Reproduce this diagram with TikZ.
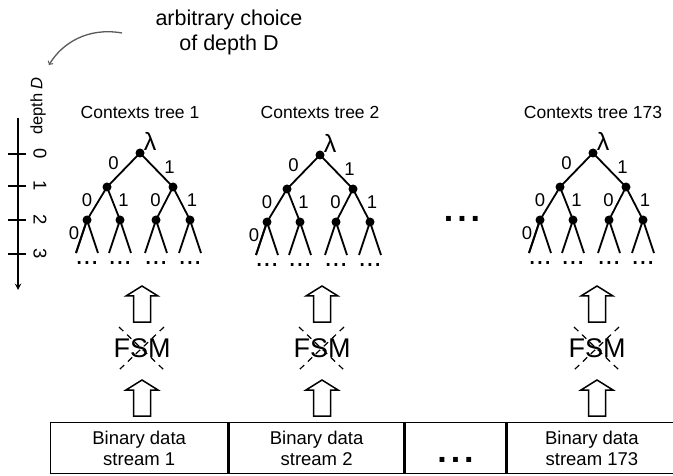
\documentclass[tikz,border=0pt]{standalone}
\usepackage{fontspec}
\setmainfont{Liberation Sans}
\usetikzlibrary{arrows,positioning}
\colorlet{gris}{black!65}
\newcommand{\fsz}[1]{\fontsize{#1}{#1}\selectfont}

\begin{document}
\begin{tikzpicture}[x=1pt,y=-1pt,
  knot/.style={circle,fill,inner sep=0pt,minimum size=9pt},
  branch/.style={line width=1.8pt},
  bit/.style={font=\fsz{18.5},inner sep=0pt},
  feuille/.style={font=\fsz{28},inner sep=0pt},
  titre/.style={font=\fsz{17.5},inner sep=0pt},
  fsm/.style={font=\fsz{27},inner sep=0pt},
  croix/.style={line width=1.2pt,dash pattern=on 6pt off 5pt},
  stream/.style={draw,line width=1.4pt,minimum height=51pt,inner sep=0pt,align=center,font=\fontsize{18.5}{21}\selectfont},
  gros/.style={font=\bfseries\fsz{34},inner sep=0pt},
  fleche/.pic={\draw[line width=1.5pt,fill=white] (-8.5,0) -- (-8.5,-26) -- (-16,-26) -- (0,-36) -- (16,-26) -- (8.5,-26) -- (8.5,0) -- cycle;}]%
\useasboundingbox (0,0) rectangle (673,476);%%
%%CHOIX DE LA PROFONDEUR
\node[font=\fontsize{21.5}{25}\selectfont,align=center,inner sep=0pt] (choix) at (229,32.5) {arbitrary choice\\of depth D}; %%
\coordinate (choixA) at (122,33); %%
\coordinate (choixB) at (49,65); %%
\draw[gris,line width=1.3pt,->] (choixA) .. controls (88,27) and (62,43) .. (choixB); %%
%%AXE
\draw[line width=1.8pt,-stealth] (18,118) -- (18,290); %%
\foreach \d/\dy in {0/154,1/186,2/220,3/254}{%
  \draw[line width=2pt] (8,\dy) -- (26,\dy); %%
  \node[font=\fsz{18.5},rotate=-90,inner sep=0pt] (prof\d) at (40,\dy) {\d}; %%
}
\node[font=\fsz{16.5},rotate=90,inner sep=0pt] (depth) at (38,106) {depth \textit{D}}; %%
%%ARBRES
\foreach \tx/\ty/\tn/\fx in {140/153/1/142,320/155/2/322,593/153/173/597}{%
  \node[titre] (titre\tn) at (\tx,112) {Contexts tree \tn}; %%
  \node[knot] (r\tn) at (\tx,\ty) {}; %%
  \node[knot] (a\tn) at (\tx-33,\ty+34) {}; %%
  \node[knot] (b\tn) at (\tx+33,\ty+34) {}; %%
  \node[knot] (aa\tn) at (\tx-53,\ty+67) {}; %%
  \node[knot] (ab\tn) at (\tx-20,\ty+67) {}; %%
  \node[knot] (ba\tn) at (\tx+16,\ty+67) {}; %%
  \node[knot] (bb\tn) at (\tx+50,\ty+67) {}; %%
  \node[font=\fsz{25},inner sep=0pt] (lambda\tn) at (\tx+10,\ty-12) {λ}; %%
  \draw[branch] (r\tn.center) -- node[bit,xshift=-10pt,yshift=7pt] {0} (a\tn.center); %%
  \draw[branch] (r\tn.center) -- node[bit,xshift=13pt,yshift=3pt] {1} (b\tn.center); %%
  \draw[branch] (a\tn.center) -- node[bit,xshift=-10pt,yshift=3.5pt] {0} (aa\tn.center); %%
  \draw[branch] (a\tn.center) -- node[bit,xshift=10pt,yshift=3.5pt] {1} (ab\tn.center); %%
  \draw[branch] (b\tn.center) -- node[bit,xshift=-9pt,yshift=3.5pt] {0} (ba\tn.center); %%
  \draw[branch] (b\tn.center) -- node[bit,xshift=10.5pt,yshift=3.5pt] {1} (bb\tn.center); %%
  \draw[branch] (aa\tn.center) -- node[bit,xshift=-7.5pt,yshift=3.5pt] {0} +(-11,33); %%
  \foreach \k in {aa,ab,ba,bb}{%
    \draw[branch] (\k\tn.center) -- +(-11,33); %%
    \draw[branch] (\k\tn.center) -- +(11,33); %%
    \node[feuille] (pts\k\tn) at ([yshift=-43pt]\k\tn.center) {...}; %%
  }
  %%FSM
  \pic at (\fx,322) {fleche}; %%
  \node[fsm] (fsm\tn) at (\fx,348) {FSM}; %%
  \draw[croix] (\fx-23,327) -- (\fx+22,370); %%
  \draw[croix] (\fx+22,327) -- (\fx-23,370); %%
  \pic at (\fx,416) {fleche}; %%
}
\node[gros] (ptsarbres) at (462,219) {.\hspace{4pt}.\hspace{4pt}.}; %%
%%FLUX
\node[stream,minimum width=177pt,anchor=north west] (s1) at (50,422) {Binary data\\stream 1}; %%
\node[stream,minimum width=175pt,anchor=north west] (s2) at (s1.north east) {Binary data\\stream 2}; %%
\node[stream,minimum width=100pt,anchor=north west] (sdots) at (s2.north east) {}; %%
\node[stream,minimum width=170pt,anchor=north west] (s173) at (sdots.north east) {Binary data\\stream 173}; %%
\node[gros] (ptsflux) at ([yshift=-12pt]sdots.center) {.\hspace{4pt}.\hspace{4pt}.}; %%
\end{tikzpicture}
\end{document}
